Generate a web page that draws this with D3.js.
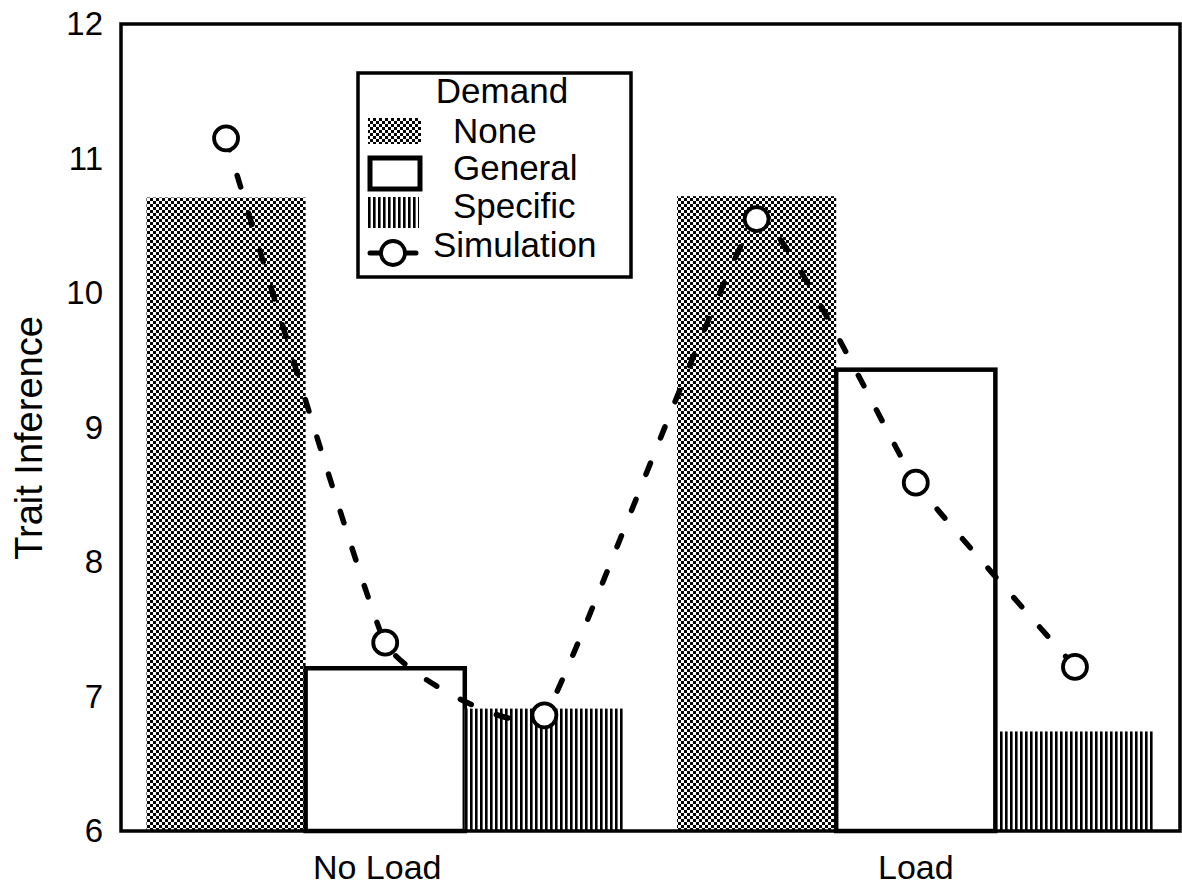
<!DOCTYPE html>
<html>
<head>
<meta charset="utf-8">
<script src="https://cdn.jsdelivr.net/npm/d3@7"></script>
<style>
  html, body { margin: 0; padding: 0; background: #fff; }
  svg { display: block; font-family: "Liberation Sans", Arial, sans-serif; }
</style>
</head>
<body>
<div id="chart"></div>
<script>
// ----- data -----
const loads = ["No Load", "Load"];
const demands = ["None", "General", "Specific"];
const noneVals = [10.71, 10.72];
const generalVals = [7.21, 9.43];
const specificVals = [6.91, 6.74];
// simulation values, in bar order (No Load: None, General, Specific; Load: ...)
const simVals = [11.15, 7.40, 6.86, 10.55, 8.59, 7.22];
const yTicks = [6, 7, 8, 9, 10, 11, 12];

const W = 1182, H = 891;
const plot = {left: 121, top: 24, right: 1180, bottom: 831};

const svg = d3.select("#chart").append("svg")
    .attr("width", W)
    .attr("height", H);

// patterns
const defs = svg.append("defs");
const checker = defs.append("pattern")
    .attr("id", "checker")
    .attr("patternUnits", "userSpaceOnUse")
    .attr("width", 6).attr("height", 6);
checker.append("rect").attr("width", 6).attr("height", 6).attr("fill", "#fff");
checker.append("rect").attr("width", 3).attr("height", 3).attr("fill", "#000");
checker.append("rect").attr("x", 3).attr("y", 3).attr("width", 3).attr("height", 3).attr("fill", "#000");

const stripes = defs.append("pattern")
    .attr("id", "stripes")
    .attr("patternUnits", "userSpaceOnUse")
    .attr("width", 5).attr("height", 10);
stripes.append("rect").attr("width", 5).attr("height", 10).attr("fill", "#fff");
stripes.append("rect").attr("width", 2.6).attr("height", 10).attr("fill", "#000");

// scales
const y = d3.scaleLinear().domain([6, 12]).range([plot.bottom, plot.top]);
const x0 = d3.scaleBand().domain(loads)
    .range([plot.left, plot.right])
    .paddingInner(0.1).paddingOuter(0.048);
const x1 = d3.scaleBand().domain(demands).range([0, x0.bandwidth()]);

const values = {None: noneVals, General: generalVals, Specific: specificVals};
const fills = {None: "url(#checker)", General: "#fff", Specific: "url(#stripes)"};

const bars = [];
loads.forEach((l, i) => demands.forEach(d => bars.push({load: l, demand: d, value: values[d][i]})));

// bars
svg.append("g").selectAll("rect")
    .data(bars)
    .join("rect")
    .attr("x", d => x0(d.load) + x1(d.demand))
    .attr("y", d => y(d.value))
    .attr("width", x1.bandwidth())
    .attr("height", d => y(6) - y(d.value))
    .attr("fill", d => fills[d.demand])
    .attr("stroke", d => d.demand === "General" ? "#000" : "none")
    .attr("stroke-width", 4.5);

// frame
svg.append("rect")
    .attr("x", plot.left).attr("y", plot.top)
    .attr("width", plot.right - plot.left)
    .attr("height", plot.bottom - plot.top)
    .attr("fill", "none")
    .attr("stroke", "#000")
    .attr("stroke-width", 3.5);

// simulation line
const simPts = bars.map((b, i) => [x0(b.load) + x1(b.demand) + x1.bandwidth() / 2, y(simVals[i])]);
svg.append("path")
    .attr("d", d3.line().curve(d3.curveCardinal.tension(0.65))(simPts))
    .attr("fill", "none")
    .attr("stroke", "#000")
    .attr("stroke-width", 5.5)
    .attr("stroke-linecap", "round")
    .attr("stroke-dasharray", "12,27");

svg.append("g").selectAll("circle")
    .data(simPts)
    .join("circle")
    .attr("cx", d => d[0])
    .attr("cy", d => d[1])
    .attr("r", 12)
    .attr("fill", "#fff")
    .attr("stroke", "#000")
    .attr("stroke-width", 3.8);

// axes
const yAxis = svg.append("g")
    .attr("transform", `translate(${plot.left},0)`)
    .call(d3.axisLeft(y).tickValues(yTicks).tickSize(0).tickPadding(18).tickFormat(d3.format("d")));
yAxis.select(".domain").remove();
yAxis.selectAll("text").attr("font-size", 33).attr("fill", "#000").attr("font-family", null);

const xAxis = svg.append("g")
    .attr("transform", `translate(0,${plot.bottom})`)
    .call(d3.axisBottom(x0).tickSize(0).tickPadding(24));
xAxis.select(".domain").remove();
xAxis.selectAll("text").attr("font-size", 34).attr("fill", "#000").attr("font-family", null)
    .attr("dx", d => d === "No Load" ? -8 : 0);

svg.append("text")
    .attr("transform", "translate(42,438) rotate(-90)")
    .attr("text-anchor", "middle")
    .attr("font-size", 38)
    .text("Trait Inference");

// legend
const lg = svg.append("g").attr("transform", "translate(358,73)");
lg.append("rect")
    .attr("width", 273).attr("height", 204)
    .attr("fill", "#fff")
    .attr("stroke", "#000")
    .attr("stroke-width", 3.5);
lg.append("text")
    .attr("x", 144).attr("y", 30)
    .attr("text-anchor", "middle")
    .attr("font-size", 35)
    .text("Demand");

const rowY = [70, 107, 145, 184];
lg.append("rect").attr("x", 10).attr("y", 45).attr("width", 53).attr("height", 26)
    .attr("fill", "url(#checker)");
lg.append("rect").attr("x", 12).attr("y", 85).attr("width", 50).attr("height", 31)
    .attr("fill", "#fff").attr("stroke", "#000").attr("stroke-width", 5);
lg.append("rect").attr("x", 10).attr("y", 124).attr("width", 51).attr("height", 31)
    .attr("fill", "url(#stripes)");
lg.append("line").attr("x1", 12).attr("x2", 58).attr("y1", 180).attr("y2", 180)
    .attr("stroke", "#000").attr("stroke-width", 5).attr("stroke-linecap", "round");
lg.append("circle").attr("cx", 35).attr("cy", 180).attr("r", 12)
    .attr("fill", "#fff").attr("stroke", "#000").attr("stroke-width", 3.8);

const labels = ["None", "General", "Specific", "Simulation"];
lg.selectAll("text.lab")
    .data(labels)
    .join("text")
    .attr("class", "lab")
    .attr("x", (d, i) => i === 3 ? 75 : 95)
    .attr("y", (d, i) => rowY[i])
    .attr("font-size", 35)
    .text(d => d);
</script>
</body>
</html>
